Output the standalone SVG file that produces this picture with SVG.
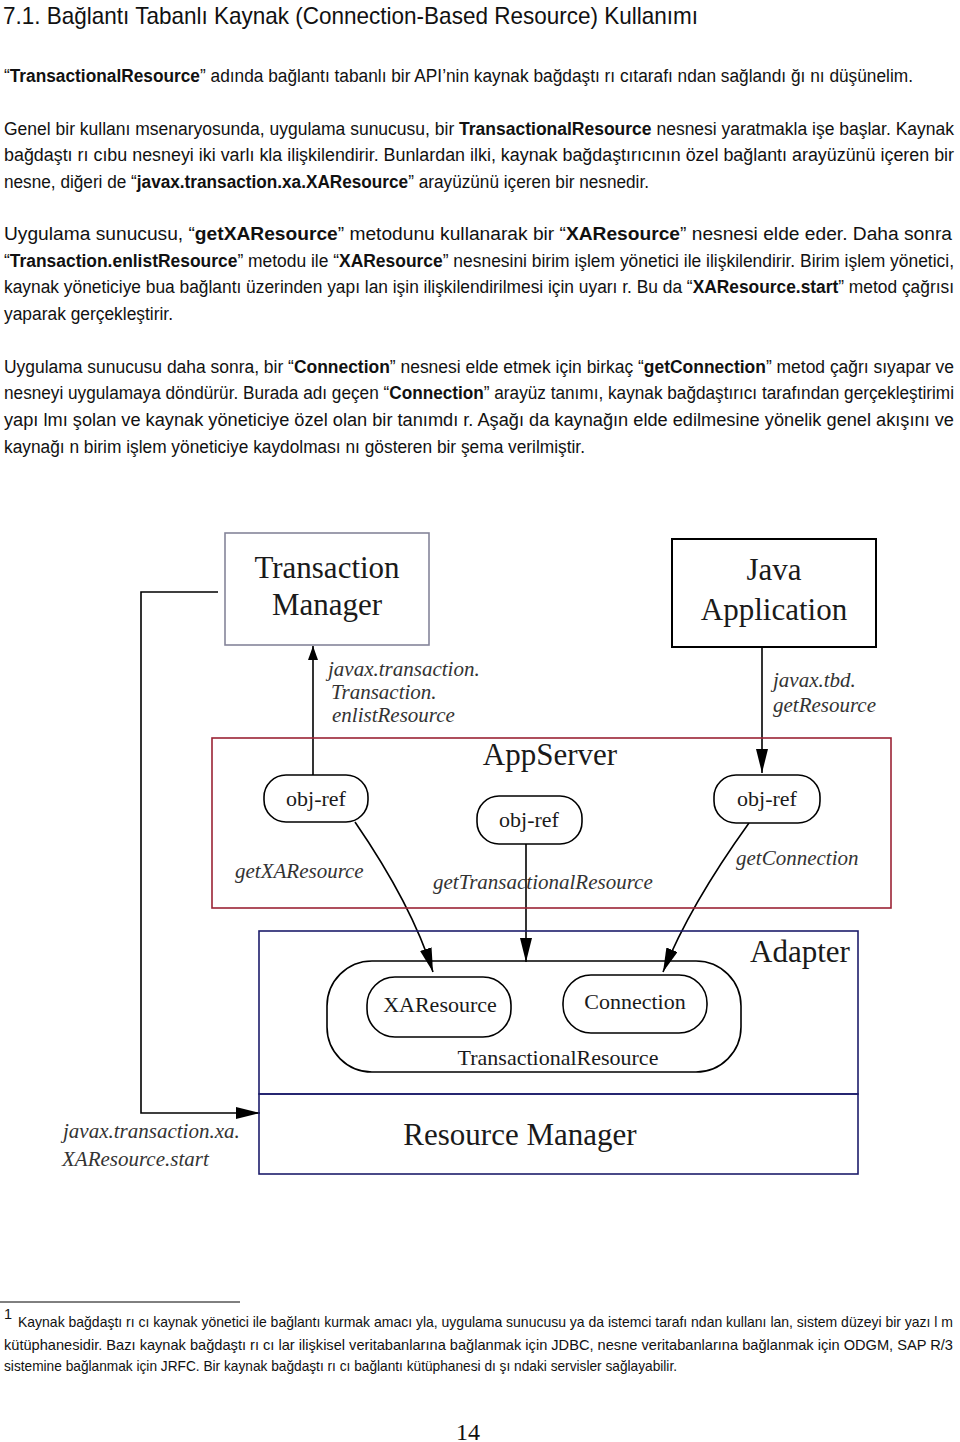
<svg xmlns="http://www.w3.org/2000/svg" width="960" height="1442" viewBox="0 0 960 1442">
<style>
.h{font-family:"Liberation Sans",Arial,sans-serif;font-size:24px;fill:#111}
.b{font-family:"Liberation Sans",Arial,sans-serif;font-size:18px;fill:#111}
.f{font-family:"Liberation Sans",Arial,sans-serif;font-size:14.5px;fill:#111}
.bd{font-weight:bold}
.big{font-family:"Liberation Serif","Times New Roman",serif;font-size:31px;fill:#1a1a1a;text-anchor:middle}
.mid{font-family:"Liberation Serif","Times New Roman",serif;font-size:22px;fill:#1a1a1a;text-anchor:middle}
.it{font-family:"Liberation Serif","Times New Roman",serif;font-size:21px;font-style:italic;fill:#333}
.ln{fill:none;stroke:#000;stroke-width:1.6}
.pg{font-family:"Liberation Serif","Times New Roman",serif;font-size:24px;fill:#111;text-anchor:middle}
</style>
<defs>
<marker id="ahL" markerUnits="userSpaceOnUse" markerWidth="26" markerHeight="14" refX="24" refY="6" orient="auto"><path d="M0,0 L24,6 L0,12 z" fill="#000"/></marker>
<marker id="ahS" markerUnits="userSpaceOnUse" markerWidth="16" markerHeight="12" refX="14" refY="5" orient="auto"><path d="M0,0 L14,5 L0,10 z" fill="#000"/></marker>
</defs>
<rect width="960" height="1442" fill="#fff"/>

<g id="text">
<text class="h" x="3" y="24" textLength="695" lengthAdjust="spacingAndGlyphs">7.1. Bağlantı Tabanlı Kaynak (Connection-Based Resource) Kullanımı</text>
<text class="b" x="4" y="82" textLength="909" lengthAdjust="spacingAndGlyphs">“<tspan class="bd">TransactionalResource</tspan>” adında bağlantı tabanlı bir API’nin kaynak bağdaştı rı cıtarafı ndan sağlandı ğı nı düşünelim.</text>
<text class="b" x="4" y="135" textLength="950" lengthAdjust="spacingAndGlyphs">Genel bir kullanı msenaryosunda, uygulama sunucusu, bir <tspan class="bd">TransactionalResource</tspan> nesnesi yaratmakla işe başlar. Kaynak</text>
<text class="b" x="4" y="161" textLength="950" lengthAdjust="spacingAndGlyphs">bağdaştı rı cıbu nesneyi iki varlı kla ilişkilendirir. Bunlardan ilki, kaynak bağdaştırıcının özel bağlantı arayüzünü içeren bir</text>
<text class="b" x="4" y="188" textLength="645" lengthAdjust="spacingAndGlyphs">nesne, diğeri de “<tspan class="bd">javax.transaction.xa.XAResource</tspan>” arayüzünü içeren bir nesnedir.</text>
<text class="b" x="4" y="240" textLength="948" lengthAdjust="spacingAndGlyphs">Uygulama sunucusu, “<tspan class="bd">getXAResource</tspan>” metodunu kullanarak bir “<tspan class="bd">XAResource</tspan>” nesnesi elde eder. Daha sonra</text>
<text class="b" x="4" y="267" textLength="950" lengthAdjust="spacingAndGlyphs">“<tspan class="bd">Transaction.enlistResource</tspan>” metodu ile “<tspan class="bd">XAResource</tspan>” nesnesini birim işlem yönetici ile ilişkilendirir. Birim işlem yönetici,</text>
<text class="b" x="4" y="293" textLength="950" lengthAdjust="spacingAndGlyphs">kaynak yöneticiye bua bağlantı üzerinden yapı lan işin ilişkilendirilmesi için uyarı r. Bu da “<tspan class="bd">XAResource.start</tspan>” metod çağrısı</text>
<text class="b" x="4" y="320" textLength="169" lengthAdjust="spacingAndGlyphs">yaparak gerçekleştirir.</text>
<text class="b" x="4" y="373" textLength="950" lengthAdjust="spacingAndGlyphs">Uygulama sunucusu daha sonra, bir “<tspan class="bd">Connection</tspan>” nesnesi elde etmek için birkaç “<tspan class="bd">getConnection</tspan>” metod çağrı sıyapar ve</text>
<text class="b" x="4" y="399" textLength="950" lengthAdjust="spacingAndGlyphs">nesneyi uygulamaya döndürür. Burada adı geçen “<tspan class="bd">Connection</tspan>” arayüz tanımı, kaynak bağdaştırıcı tarafından gerçekleştirimi</text>
<text class="b" x="4" y="426" textLength="950" lengthAdjust="spacingAndGlyphs">yapı lmı şolan ve kaynak yöneticiye özel olan bir tanımdı r. Aşağı da kaynağın elde edilmesine yönelik genel akışını ve</text>
<text class="b" x="4" y="453" textLength="581" lengthAdjust="spacingAndGlyphs">kaynağı n birim işlem yöneticiye kaydolması nı gösteren bir şema verilmiştir.</text>
</g>

<g id="footnote">
<line x1="0" y1="1302" x2="240" y2="1302" stroke="#000" stroke-width="1"/>
<text class="f" x="4" y="1319" font-size="10">1</text>
<text class="f" x="18" y="1327" textLength="935" lengthAdjust="spacingAndGlyphs">Kaynak bağdaştı rı cı kaynak yönetici ile bağlantı kurmak amacı yla, uygulama sunucusu ya da istemci tarafı ndan kullanı lan, sistem düzeyi bir yazı l m</text>
<text class="f" x="4" y="1350" textLength="949" lengthAdjust="spacingAndGlyphs">kütüphanesidir. Bazı kaynak bağdaştı rı cı lar ilişkisel veritabanlarına bağlanmak için JDBC, nesne veritabanlarına bağlanmak için ODGM, SAP R/3</text>
<text class="f" x="4" y="1371" textLength="673" lengthAdjust="spacingAndGlyphs">sistemine bağlanmak için JRFC. Bir kaynak bağdaştı rı cı bağlantı kütüphanesi dı şı ndaki servisler sağlayabilir.</text>
<text class="pg" x="468" y="1440">14</text>
</g>

<g id="connectors">
<path class="ln" d="M313,775 V646" marker-end="url(#ahS)"/>
<path class="ln" d="M762,647 V773" marker-end="url(#ahL)"/>
<path class="ln" d="M355,822 Q412,905 433,972" marker-end="url(#ahL)"/>
<path class="ln" d="M526,844 V962" marker-end="url(#ahL)"/>
<path class="ln" d="M749,823 Q690,905 663,972" marker-end="url(#ahL)"/>
<path class="ln" d="M218,592 H141 V1113 H260" marker-end="url(#ahL)"/>
<text class="it" x="328" y="676">javax.transaction.</text>
<text class="it" x="331" y="699">Transaction.</text>
<text class="it" x="332" y="722">enlistResource</text>
<text class="it" x="773" y="687">javax.tbd.</text>
<text class="it" x="773" y="712">getResource</text>
<text class="it" x="235" y="878">getXAResource</text>
<text class="it" x="433" y="889">getTransactionalResource</text>
<text class="it" x="736" y="865">getConnection</text>
<text class="it" x="63" y="1138">javax.transaction.xa.</text>
<text class="it" x="62" y="1166">XAResource.start</text>
</g>

<g id="tm">
<rect x="225" y="533" width="204" height="112" fill="#fff" stroke="#85859a" stroke-width="1.6"/>
<text class="big" x="327" y="578" font-size="30">Transaction</text>
<text class="big" x="327" y="615" font-size="30">Manager</text>
</g>
<g id="javaapp">
<rect x="672" y="539" width="204" height="108" fill="#fff" stroke="#000" stroke-width="2"/>
<text class="big" x="774" y="580">Java</text>
<text class="big" x="774" y="620">Application</text>
</g>
<g id="appserver">
<rect x="212" y="738" width="679" height="170" fill="none" stroke="#9b2335" stroke-width="1.6"/>
<text class="big" x="550" y="765">AppServer</text>
</g>
<g id="objref1">
<rect x="264" y="775" width="104" height="47" rx="22" fill="#fff" stroke="#000" stroke-width="1.6"/>
<text class="mid" x="316" y="806">obj-ref</text>
</g>
<g id="objref2">
<rect x="477" y="796" width="105" height="48" rx="22" fill="#fff" stroke="#000" stroke-width="1.6"/>
<text class="mid" x="529" y="827">obj-ref</text>
</g>
<g id="objref3">
<rect x="714" y="775" width="106" height="48" rx="22" fill="#fff" stroke="#000" stroke-width="1.6"/>
<text class="mid" x="767" y="806">obj-ref</text>
</g>
<g id="adapter">
<rect x="259" y="931" width="599" height="163" fill="none" stroke="#1d1d6b" stroke-width="1.6"/>
<text class="big" x="800" y="962">Adapter</text>
</g>
<g id="resmgr">
<rect x="259" y="1094" width="599" height="80" fill="none" stroke="#1d1d6b" stroke-width="1.6"/>
<text class="big" x="520" y="1145">Resource Manager</text>
</g>
<g id="transres">
<rect x="327" y="961" width="414" height="111" rx="45" fill="none" stroke="#000" stroke-width="1.6"/>
<text class="mid" x="558" y="1065">TransactionalResource</text>
</g>
<g id="xares">
<rect x="367" y="977" width="144" height="60" rx="28" fill="#fff" stroke="#000" stroke-width="1.6"/>
<text class="mid" x="440" y="1012">XAResource</text>
</g>
<g id="conn">
<rect x="563" y="975" width="144" height="58" rx="28" fill="#fff" stroke="#000" stroke-width="1.6"/>
<text class="mid" x="635" y="1009">Connection</text>
</g>
</svg>
